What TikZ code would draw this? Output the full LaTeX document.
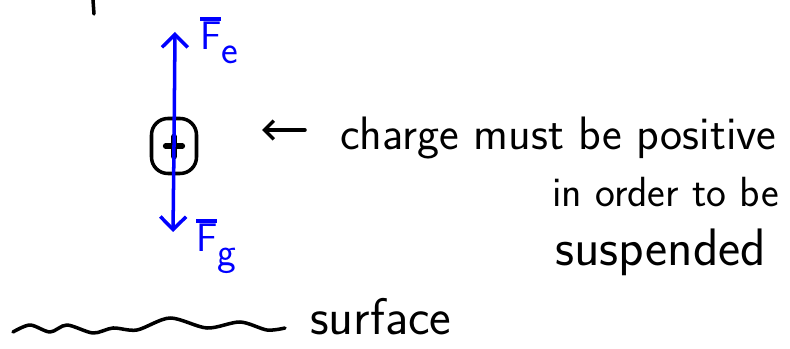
\documentclass[tikz,border=0pt]{standalone}
\usetikzlibrary{arrows.meta}
\newcommand{\vecsym}[2]{\rlap{\raisebox{0.74em}{\rule{0.52em}{3pt}}}#1\raisebox{-0.35em}{#2}}
\tikzset{
  ink/.style={line width=3pt, line cap=round, line join=round},
  force/.style={ink, blue, -{Straight Barb[length=11pt,width=22pt]}},
  hand/.style={font=\sffamily\fontsize{40}{44}\selectfont, inner sep=0pt, anchor=base west},
  forcelabel/.style={blue, font=\sffamily\fontsize{34}{38}\selectfont, anchor=base west, inner sep=0pt},
}
\begin{document}
\begin{tikzpicture}[x=0.03cm, y=-0.03cm]
  \useasboundingbox (0,0) rectangle (790,349);
  \draw[ink] (93,0) -- (94,14);
  % charged particle and forces
  \node[ink, draw, rounded corners=14pt, minimum width=1.35cm, minimum height=1.65cm,
        inner sep=0pt] (particle) at (174,146) {};
  \draw[ink, line width=5pt] ([xshift=-7pt]particle.center) -- ([xshift=7pt]particle.center);
  \draw[ink, line width=5pt] ([yshift=8pt]particle.center) -- ([yshift=-9pt]particle.center);
  \coordinate (fetip) at (175,32);
  \coordinate (fgtip) at (173,232);
  \draw[force] (particle.center) -- (fetip);
  \draw[force] (particle.center) -- (fgtip);
  \node[forcelabel] (fe) at (200,50) {\vecsym{F}{e}};
  \node[forcelabel] (fg) at (196,252) {\vecsym{F}{g}};
  % note
  \node[hand] (note1) at (340,150) {charge must be positive};
  \node[hand, font=\sffamily\fontsize{36}{40}\selectfont] (note2) at (552,207) {in order to be};
  \node[hand, font=\sffamily\fontsize{45}{50}\selectfont] (note3) at (555,266) {suspended};
  \coordinate (notetip) at (262,130);
  \draw[ink, -{Straight Barb[length=8pt,width=16pt]}] (note1.west |- notetip) ++(-35,0) coordinate (notetail) -- (notetip);
  % surface
  \draw[ink] plot[smooth] coordinates {(13,332) (30,325) (50,332) (67,325) (93,333) (113,328)
    (137,330) (170,318) (207,328) (240,322) (267,330) (285,328)};
  \node[hand, font=\sffamily\fontsize{44}{48}\selectfont] (surface) at (310,335) {surface};
\end{tikzpicture}
\end{document}
